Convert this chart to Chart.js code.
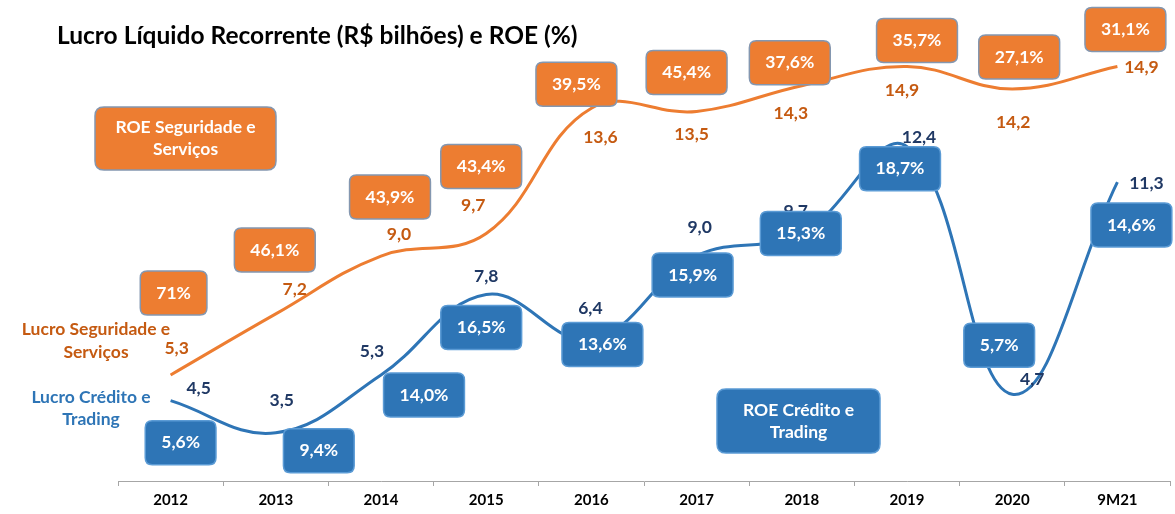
<!DOCTYPE html>
<html>
<head>
<meta charset="utf-8">
<script src="https://cdn.jsdelivr.net/npm/chart.js@4.4.1/dist/chart.umd.min.js"></script>
<style>
  html, body { margin: 0; padding: 0; background: #fff; }
  #wrap { width: 1175px; height: 514px; }
</style>
</head>
<body>
<div id="wrap"><canvas id="chart" width="1175" height="514"></canvas></div>
<script>
// values
const categories = ["2012", "2013", "2014", "2015", "2016", "2017", "2018", "2019", "2020", "9M21"];
const lucroSeguridade = [5.3, 7.2, 9.0, 9.7, 13.6, 13.5, 14.3, 14.9, 14.2, 14.9];
const lucroCredito = [4.5, 3.5, 5.3, 7.8, 6.4, 9.0, 9.7, 12.4, 4.7, 11.3];
const roeSeguridade = [71, 46.1, 43.9, 43.4, 39.5, 45.4, 37.6, 35.7, 27.1, 31.1];
const roeCredito = [5.6, 9.4, 14.0, 16.5, 13.6, 15.9, 15.3, 18.7, 5.7, 14.6];

const ORANGE = "#ED7D31";
const BLUE = "#2E75B6";
const FONT = "Lato, 'Open Sans', sans-serif";

// number formatting pt-BR style
function fmt(v) {
  return v.toFixed(1).replace(".", ",");
}
function fmtPct(v) {
  // the 2012 ROE is shown rounded in the source
  return (v >= 50 ? String(Math.round(v)) : fmt(v)) + "%";
}

function roundRect(ctx, x, y, w, h, r) {
  ctx.beginPath();
  ctx.moveTo(x + r, y);
  ctx.lineTo(x + w - r, y);
  ctx.quadraticCurveTo(x + w, y, x + w, y + r);
  ctx.lineTo(x + w, y + h - r);
  ctx.quadraticCurveTo(x + w, y + h, x + w - r, y + h);
  ctx.lineTo(x + r, y + h);
  ctx.quadraticCurveTo(x, y + h, x, y + h - r);
  ctx.lineTo(x, y + r);
  ctx.quadraticCurveTo(x, y, x + r, y);
  ctx.closePath();
}

// pixel nudges for labels / ROE boxes, relative to each point
const layoutOffsets = {
  seguridadeLabel: [[6,-27],[19,-25],[18,-22],[-13,-28],[9,29],[-5,23],[-11,28],[-5,24],[1,33],[24,1]],
  creditoLabel: [[28,-12],[6,-32],[-9,-24],[0,-18],[-1,-31],[3,-29],[-6,-22],[12,-9],[20,-15],[29,1]],
  seguridadeBox: [[3,-82],[-1,-64],[9,-59],[-5,-67],[-15,-24],[-10,-39],[-12,-23],[10,-26],[7,-32],[8,-37]],
  creditoBox: [[10,42],[43,18],[43,20],[-5,33],[11,5],[-4,19],[-1,0],[-7,22],[-13,-49],[14,43]]
};

const annotationsPlugin = {
  id: "annotations",
  afterDatasetsDraw(chart) {
    const ctx = chart.ctx;
    const metaS = chart.getDatasetMeta(0);
    const metaC = chart.getDatasetMeta(1);
    ctx.save();
    ctx.textAlign = "center";
    ctx.textBaseline = "middle";
    ctx.font = "bold 17.5px " + FONT;

    // value labels
    metaS.data.forEach((pt, i) => {
      const [dx, dy] = layoutOffsets.seguridadeLabel[i];
      ctx.fillStyle = "#C55A11";
      ctx.fillText(fmt(lucroSeguridade[i]), pt.x + dx, pt.y + dy);
    });
    metaC.data.forEach((pt, i) => {
      const [dx, dy] = layoutOffsets.creditoLabel[i];
      ctx.fillStyle = "#1F3864";
      ctx.fillText(fmt(lucroCredito[i]), pt.x + dx, pt.y + dy);
    });

    // ROE boxes
    function box(cx, cy, text, fill, border) {
      const w = ctx.measureText(text).width + 32;
      const h = 44;
      roundRect(ctx, cx - w / 2, cy - h / 2, w, h, 7);
      ctx.fillStyle = fill;
      ctx.fill();
      ctx.lineWidth = 1.5;
      ctx.strokeStyle = border;
      ctx.stroke();
      ctx.fillStyle = "#fff";
      ctx.fillText(text, cx, cy);
    }
    metaS.data.forEach((pt, i) => {
      const [dx, dy] = layoutOffsets.seguridadeBox[i];
      box(pt.x + dx, pt.y + dy, fmtPct(roeSeguridade[i]), ORANGE, "#8497B0");
    });
    metaC.data.forEach((pt, i) => {
      const [dx, dy] = layoutOffsets.creditoBox[i];
      box(pt.x + dx, pt.y + dy, fmtPct(roeCredito[i]), BLUE, "#5B9BD5");
    });

    // legend-like boxes
    function bigBox(x, y, w, h, lines, fill, border) {
      roundRect(ctx, x, y, w, h, 9);
      ctx.fillStyle = fill;
      ctx.fill();
      ctx.lineWidth = 1.5;
      ctx.strokeStyle = border;
      ctx.stroke();
      ctx.fillStyle = "#fff";
      ctx.fillText(lines[0], x + w / 2, y + h / 2 - 11);
      ctx.fillText(lines[1], x + w / 2, y + h / 2 + 11);
    }
    bigBox(95, 107, 181, 63, ["ROE Seguridade e", "Serviços"], ORANGE, "#8497B0");
    bigBox(717, 389, 163, 64, ["ROE Crédito e", "Trading"], BLUE, "#5B9BD5");

    // series names
    ctx.fillStyle = "#C55A11";
    ctx.fillText("Lucro Seguridade e", 96, 329);
    ctx.fillText("Serviços", 96, 352);
    ctx.fillStyle = BLUE;
    ctx.fillText("Lucro Crédito e", 91, 397);
    ctx.fillText("Trading", 91, 419);

    // title
    ctx.textAlign = "left";
    ctx.fillStyle = "#000";
    ctx.font = "bold 24.5px " + FONT;
    ctx.fillText("Lucro Líquido Recorrente (R$ bilhões) e ROE (%)", 57, 36);
    ctx.restore();
  }
};

new Chart(document.getElementById("chart"), {
  type: "line",
  data: {
    labels: categories,
    datasets: [
      {
        label: "Lucro Seguridade e Serviços",
        data: lucroSeguridade,
        borderColor: ORANGE,
        borderWidth: 3,
        pointRadius: 0,
        tension: 0.4,
        fill: false
      },
      {
        label: "Lucro Crédito e Trading",
        data: lucroCredito,
        borderColor: BLUE,
        borderWidth: 3,
        pointRadius: 0,
        tension: 0.4,
        fill: false
      }
    ]
  },
  options: {
    responsive: false,
    animation: false,
    devicePixelRatio: 1,
    layout: { padding: { left: 118, right: 5, top: 15, bottom: 0 } },
    plugins: {
      legend: { display: false },
      tooltip: { enabled: false }
    },
    scales: {
      x: {
        offset: true,
        grid: { offset: true, drawOnChartArea: false, tickLength: 5, color: "#A6A6A6" },
        border: { display: true, color: "#A6A6A6", width: 1 },
        ticks: { color: "#000", padding: 5, font: { family: FONT, size: 15, weight: "bold" } }
      },
      y: {
        display: false,
        min: 2,
        max: 16.5
      }
    }
  },
  plugins: [annotationsPlugin]
});
</script>
</body>
</html>
